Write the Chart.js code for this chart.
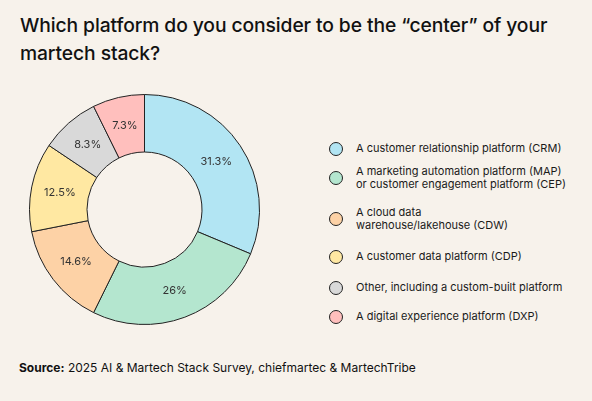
<!DOCTYPE html>
<html>
<head>
<meta charset="utf-8">
<script src="https://cdn.jsdelivr.net/npm/chart.js@4"></script>
<style>
  html, body { margin: 0; padding: 0; }
  body { width: 592px; height: 401px; background: #f7f2eb; position: relative; overflow: hidden; font-family: Inter, "Noto Sans", sans-serif; color: #111; }
  #title { position: absolute; left: 20px; top: 11px; font-size: 19.3px; font-weight: 500; line-height: 28px; letter-spacing: -0.1px; }
  #wrap { position: absolute; left: 29px; top: 93.5px; width: 231px; height: 231px; }
  #legend { position: absolute; left: 329px; top: 0; width: 260px; }
  .item { position: absolute; left: 0; display: flex; align-items: center; font-size: 11px; line-height: 13px; color: #1a1a1a; }
  .dot { width: 14px; height: 14px; border-radius: 50%; border: 1px solid #222; box-sizing: border-box; margin-right: 13px; flex: none; }
  #source { position: absolute; left: 19px; top: 360px; font-size: 12px; color: #111; }
</style>
</head>
<body>
<div id="title">Which platform do you consider to be the “center” of your<br>martech stack?</div>
<div id="wrap"><canvas id="chart"></canvas></div>
<div id="legend"></div>
<div id="source"><b>Source:</b> 2025 AI &amp; Martech Stack Survey, chiefmartec &amp; MartechTribe</div>
<script>
// Дані діаграми
const categories = [
  ["A customer relationship platform (CRM)"],
  ["A marketing automation platform (MAP)", "or customer engagement platform (CEP)"],
  ["A cloud data", "warehouse/lakehouse (CDW)"],
  ["A customer data platform (CDP)"],
  ["Other, including a custom-built platform"],
  ["A digital experience platform (DXP)"]
];
const shares = [31.3, 26, 14.6, 12.5, 8.3, 7.3];
const valueLabels = ["31.3%", "26%", "14.6%", "12.5%", "8.3%", "7.3%"];
const sliceColors = ["#b2e5f3", "#b4e6cf", "#fdd2a6", "#ffe8a2", "#d9d9d9", "#ffbfbd"];
const legendRows = [148, 178, 219, 256, 287, 316];

// Підписи всередині сегментів
const sliceLabels = {
  id: "sliceLabels",
  afterDatasetsDraw(chart) {
    const ctx = chart.ctx;
    const meta = chart.getDatasetMeta(0);
    ctx.save();
    ctx.font = "11px Inter, 'Noto Sans', sans-serif";
    ctx.fillStyle = "#333";
    ctx.textAlign = "center";
    ctx.textBaseline = "middle";
    meta.data.forEach((arc, i) => {
      const p = arc.tooltipPosition();
      ctx.fillText(valueLabels[i], p.x, p.y);
    });
    ctx.restore();
  }
};

new Chart(document.getElementById("chart"), {
  type: "doughnut",
  data: {
    labels: categories.map(c => c.join(" ")),
    datasets: [{
      data: shares,
      backgroundColor: sliceColors,
      borderColor: "#222",
      borderWidth: 1
    }]
  },
  options: {
    responsive: true,
    maintainAspectRatio: false,
    animation: false,
    cutout: "50%",
    layout: { padding: 0 },
    plugins: {
      legend: { display: false },
      tooltip: { enabled: false }
    }
  },
  plugins: [sliceLabels]
});

// Легенда
const legend = document.getElementById("legend");
categories.forEach((lines, i) => {
  const item = document.createElement("div");
  item.className = "item";
  const dot = document.createElement("span");
  dot.className = "dot";
  dot.style.background = sliceColors[i];
  const text = document.createElement("span");
  text.innerHTML = lines.join("<br>");
  item.appendChild(dot);
  item.appendChild(text);
  item.style.top = (legendRows[i] - 6.5 * lines.length) + "px";
  legend.appendChild(item);
});
</script>
</body>
</html>
